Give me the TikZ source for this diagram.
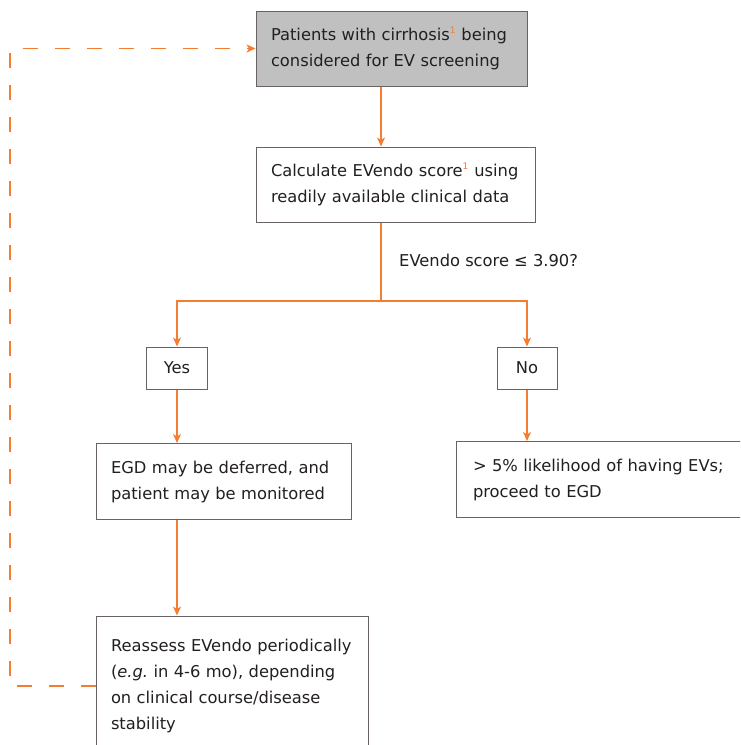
\documentclass[tikz,border=0pt]{standalone}
\usepackage{fontspec}
\setmainfont{DejaVu Sans}
\usetikzlibrary{arrows.meta,calc}
\definecolor{lineor}{RGB}{245,125,50}
\definecolor{boxgray}{RGB}{105,98,98}
\definecolor{fillgray}{RGB}{192,192,192}
\definecolor{txt}{RGB}{35,31,32}
\begin{document}
\begin{tikzpicture}[x=1pt,y=1pt,
  box/.style={draw=boxgray, line width=1pt, rectangle, align=left, text=txt,
    font=\fontsize{16.3}{26}\selectfont, inner xsep=15pt, inner ysep=0pt},
  conn/.style={color=lineor, line width=1.05pt},
  arr/.style={conn, -{Stealth[length=9pt,width=8pt,inset=2.5pt]}}]
\useasboundingbox (0,0) rectangle (740,-745);
\clip (0,0) rectangle (740,-745);
\fill[white] (0,0) rectangle (740,-745);
\newcommand{\orsup}{\textsuperscript{\textcolor{lineor}{\fontsize{9}{9}\selectfont 1}}}
% nodes
\node[box, fill=fillgray, text width=241pt, minimum height=75pt] (start) at (391.5,-48.5)
  {Patients with cirrhosis\orsup{} being\\considered for EV screening};
\node[box, text width=249pt, minimum height=75pt] (calc) at (395.5,-184.5)
  {Calculate EVendo score\orsup{} using\\readily available clinical data};
\coordinate (split) at (381,-301);
\node[anchor=base west, text=txt, font=\fontsize{16.3}{26}\selectfont, inner sep=0pt] (q) at (399,-266)
  {EVendo score ≤ 3.90?};
\node[box, align=center, minimum width=61pt, minimum height=42pt, inner xsep=0pt] (yes) at (177,-368) {Yes};
\node[box, align=center, minimum width=60pt, minimum height=42pt, inner xsep=0pt] (no) at (527,-368) {No};
\node[box, text width=225pt, minimum height=76pt] (egd) at (223.5,-481.5)
  {EGD may be deferred, and\\patient may be monitored};
\node[box, text width=256pt, minimum height=76pt, inner xsep=17pt] (egd2) at (601,-479.5)
  {> 5\% likelihood of having EVs;\\proceed to EGD};
\node[box, text width=242pt, minimum height=140pt] (reass) at (232,-686)
  {Reassess EVendo periodically\\(\textit{e.g.}\ in 4-6 mo), depending\\on clinical course/disease\\stability};
\coordinate (fb) at (10,-686);
% connectors
\draw[arr] (start.south -| split) -- (calc.north -| split);
\draw[conn] (calc.south -| split) -- (split);
\draw[arr] (split) -| (yes.north);
\draw[arr] (split) -| (no.north);
\draw[arr] (yes.south) -- (yes.south |- egd.north);
\draw[arr] (no.south) -- (no.south |- egd2.north);
\draw[arr] (yes.south |- egd.south) -- (yes.south |- reass.north);
\draw[conn, dash pattern=on 15pt off 17pt, -{Stealth[length=9pt,width=8pt,inset=2.5pt]}]
  (reass.west |- fb) -- (fb) |- (start.west);
\end{tikzpicture}
\end{document}
